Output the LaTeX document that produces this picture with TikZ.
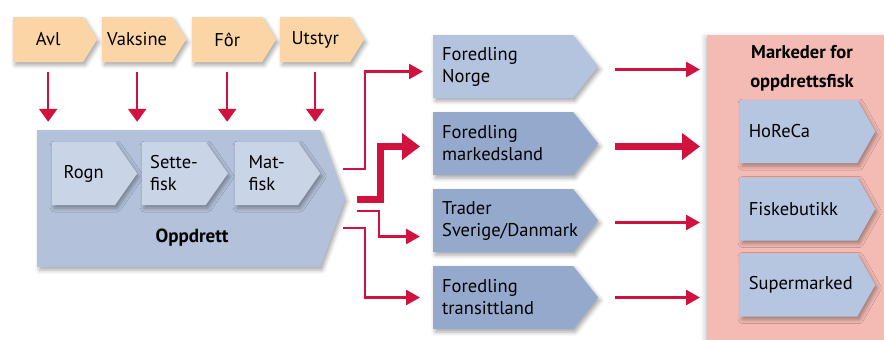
\documentclass[tikz,border=0pt]{standalone}
\usepackage{fontspec}
\setmainfont{PT Sans}
\usepackage{xcolor}
\usetikzlibrary{arrows.meta,positioning,calc,shapes.symbols,shadows.blur}

\definecolor{inorange}{HTML}{FBD5A5}
\definecolor{oppblue}{HTML}{B3C1DA}
\definecolor{stageblue}{HTML}{CAD4E7}
\definecolor{lightblue}{HTML}{B5C4DE}
\definecolor{darkblue}{HTML}{95A9CC}
\definecolor{mktblue}{HTML}{B6C5E0}
\definecolor{mktpink}{HTML}{F4BBB4}
\definecolor{flowred}{HTML}{D2123E}

\begin{document}
\begin{tikzpicture}[
    x=1pt, y=-1pt,
    font=\fontsize{18.5}{22}\selectfont,
    chev/.style={signal, signal to=east, draw=none, inner xsep=8pt,
                 blur shadow={shadow xshift=2pt, shadow yshift=-3pt,
                              shadow blur radius=4pt, shadow opacity=35}},
    input/.style={chev, fill=inorange, minimum width=84pt, minimum height=45pt,
                  signal pointer angle=116, inner xsep=4pt},
    stage/.style={chev, fill=stageblue, minimum width=85pt, minimum height=63pt,
                  signal pointer angle=110, align=left},
    proc/.style={chev, minimum width=165pt, minimum height=63pt,
                 signal pointer angle=103, text width=122pt, align=left},
    market/.style={chev, fill=mktblue, minimum width=135pt, minimum height=63pt,
                   signal pointer angle=121, text width=100pt, align=left},
    feed/.style={-{Triangle[width=18pt,length=13pt]}, flowred, line width=2.6pt},
    flow/.style={-{Triangle[width=15pt,length=14pt]}, flowred, line width=2.6pt},
    bigflow/.style={-{Triangle[width=26pt,length=18pt]}, flowred, line width=7pt}
]
\useasboundingbox (0,0) rectangle (884,340);

% markets background
\node[fill=mktpink, minimum width=190pt, minimum height=310pt, anchor=north west,
      blur shadow={shadow xshift=-2pt, shadow yshift=-2pt, shadow blur radius=5pt, shadow opacity=25}]
     (mkt) at (707,35) {};
\node[font=\fontsize{18.5}{29}\selectfont\bfseries, align=center] (mkttitle) at (802,68)
     {Markeder for\\oppdrettsfisk};

% inputs
\node[input, anchor=west] (avl) at (13,39.5) {Avl};
\node[input, anchor=west] (vak) at (102,39.5) {Vaksine};
\node[input, anchor=west] (for) at (192,39.5) {Fôr};
\node[input, anchor=west] (uts) at (280,39.5) {Utstyr};

% farming
\node[chev, fill=oppblue, minimum width=308pt, minimum height=137pt,
      signal pointer angle=140, anchor=west] (opp) at (37,198.5) {};
\node[font=\fontsize{19}{22}\selectfont\bfseries] (opplbl) at (192,238) {Oppdrett};
\node[stage, anchor=west] (rogn) at (52,173.5) {Rogn};
\node[stage, anchor=west] (sette) at (142,173.5) {Sette-\\fisk};
\node[stage, anchor=west] (mat) at (235,173.5) {Mat-\\fisk};

% processing
\node[proc, fill=lightblue, anchor=west] (fn) at (433,66.5) {Foredling\\Norge};
\node[proc, fill=darkblue, anchor=west] (fm) at (433,143.5) {Foredling\\markedsland};
\node[proc, fill=darkblue, anchor=west] (tr) at (433,220.5) {Trader\\Sverige/Danmark};
\node[proc, fill=darkblue, anchor=west] (ft) at (433,297.5) {Foredling\\transittland};

% market channels
\node[market, anchor=west] (hor) at (740,131.5) {HoReCa};
\node[market, anchor=west] (fisk) at (740,209) {Fiskebutikk};
\node[market, anchor=west] (sup) at (740,285) {Supermarked};

% inputs into farming
\foreach \n in {avl,vak,for,uts}
  \draw[feed, shorten <=10pt, shorten >=8pt] (\n.south) -- (\n.south |- opp.north);

% farming to processing
\coordinate (o1) at (343,169);
\coordinate (o2) at (357,199);
\coordinate (o3) at (357,211);
\coordinate (o4) at (343,228);
\draw[flow, shorten >=10pt] (o1) -- ++(22,0) |- ($(fn.west)+(0,5)$);
\draw[bigflow, shorten >=13pt] (o2) -- ++(23,0) |- ($(fm.west)+(0,3)$);
\draw[flow, shorten >=13pt] (o3) -- ++(22,0) |- ($(tr.west)+(0,16)$);
\draw[flow, shorten >=13pt] (o4) -- ++(22,0) |- (ft.west);

% processing to markets
\coordinate (e1) at ($(fn.east)+(0,3)$);
\coordinate (e2) at ($(fm.east)+(0,3)$);
\coordinate (e3) at ($(tr.east)+(0,2)$);
\coordinate (e4) at (ft.east);
\draw[flow, shorten <=17pt, shorten >=7pt] (e1) -- (e1 -| mkt.west);
\draw[bigflow, shorten <=17pt, shorten >=7pt] (e2) -- (e2 -| mkt.west);
\draw[flow, shorten <=17pt, shorten >=7pt] (e3) -- (e3 -| mkt.west);
\draw[flow, shorten <=17pt, shorten >=7pt] (e4) -- (e4 -| mkt.west);

\end{tikzpicture}
\end{document}
